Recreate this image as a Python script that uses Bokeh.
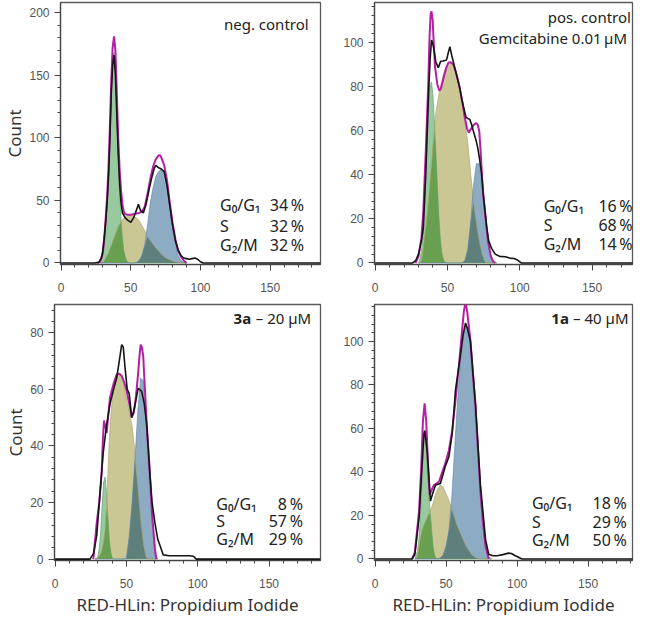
import numpy as np
from bokeh.plotting import figure
from bokeh.layouts import column, row
from bokeh.models import Label, FixedTicker, Range1d
from bokeh.embed import file_html
from bokeh.resources import INLINE

# ---------------- tick labels ----------------
X_MAJOR = [0, 50, 100, 150]
X_MINOR = [0, 10, 20, 30, 40, 50, 60, 70, 80, 90, 100, 110, 120, 130, 140, 150, 160, 170, 180]
Y1_MAJOR = [0, 50, 100, 150, 200]
Y1_MINOR = [0, 10, 20, 30, 40, 50, 60, 70, 80, 90, 100, 110, 120, 130, 140, 150, 160, 170, 180, 190, 200]
Y2_MAJOR = [0, 20, 40, 60, 80, 100]
Y2_MINOR = [0, 4, 8, 12, 16, 20, 24, 28, 32, 36, 40, 44, 48, 52, 56, 60, 64, 68, 72, 76, 80, 84, 88, 92, 96, 100, 104, 108, 112, 116]
Y3_MAJOR = [0, 20, 40, 60, 80]
Y3_MINOR = [0, 4, 8, 12, 16, 20, 24, 28, 32, 36, 40, 44, 48, 52, 56, 60, 64, 68, 72, 76, 80, 84, 88]

PHASES = ["G\u2080/G\u2081", "S", "G\u2082/M"]

# ---------------- panel 1: neg. control ----------------
P1_X = [28, 29, 30, 31, 32, 33, 34, 35, 36, 37, 38, 39, 40, 41, 42, 43, 44, 45, 46, 47, 48,
        50, 52, 54, 56, 58, 60, 62, 64, 66, 68, 70, 72, 74, 76, 78, 80, 82, 84, 86, 88, 90]
P1_G1 = [0, 3, 10, 20, 32, 45, 65, 100, 135, 160, 168, 150, 120, 85, 55, 35, 20, 10, 5, 2, 0.5,
         0, 0, 0, 0, 0, 0, 0, 0, 0, 0, 0, 0, 0, 0, 0, 0, 0, 0, 0, 0, 0]
P1_S = [0, 0, 0.5, 2, 4, 6, 8, 11, 14, 17, 20, 23, 26, 29, 31, 33, 35, 36, 37, 37.5, 38,
        38, 37.5, 36, 34, 30, 26, 21, 18, 15, 12, 9.5, 7, 5, 3.5, 2.5, 1.5, 1, 0.5, 0, 0, 0]
P1_G2 = [0, 0, 0, 0, 0, 0, 0, 0, 0, 0, 0, 0, 0, 0, 0, 0, 0, 0, 0, 0, 0,
         0, 0, 0.5, 2, 6, 14, 30, 48, 60, 69, 73, 75, 72, 60, 44, 28, 15, 6, 2, 0.5, 0]
P1_DX = [0, 24, 27, 29, 30, 31, 32, 33, 34, 35, 36, 37, 38, 39, 40, 41, 42, 43, 44, 46,
         48, 50, 52, 54, 55.5, 57, 59, 61, 63, 65, 67, 68, 70, 72, 74, 76, 78, 80, 82, 84,
         86, 88, 90, 92, 94, 96, 98, 100, 102, 186]
P1_DY = [0, 0, 0.5, 4, 10, 20, 33, 48, 68, 98, 135, 158, 166, 150, 118, 88, 64, 48, 40, 36,
         34, 32.5, 36, 42, 47, 42, 40, 47, 58, 68, 76, 78, 76, 75, 73, 62, 46, 30, 18, 10,
         6, 4, 3.5, 3, 3.5, 4, 3, 1, 0, 0]
P1_FX = [26, 28, 30, 31, 32, 33, 34, 35, 36, 37, 38, 39, 40, 41, 42, 43, 44, 45, 46, 48,
         50, 52, 54, 56, 58, 60, 62, 64, 66, 68, 70, 71, 72, 74, 76, 78, 80, 82, 84, 86, 88, 90]
P1_FY = [0, 1, 8, 20, 35, 52, 75, 108, 145, 172, 181, 170, 135, 100, 75, 58, 47, 41, 39, 38.5,
         38.5, 39, 39.5, 40, 41, 45, 55, 67, 77, 83, 86, 86, 84, 78, 66, 48, 32, 19, 10, 5, 2, 0]
P1_PCT = ["34\u2009%", "32\u2009%", "32\u2009%"]

# ---------------- panel 2: pos. control ----------------
P2_X = [30, 31, 32, 33, 34, 35, 36, 37, 38, 39, 40, 41, 42, 43, 44, 45, 46, 47, 48,
        50, 52, 54, 56, 58, 60, 62, 64, 66, 68, 70, 72, 74, 76, 78, 80, 82, 84]
P2_G1 = [0, 2, 5, 12, 22, 38, 55, 70, 80, 82, 76, 64, 50, 36, 22, 12, 5, 2, 0.5,
         0, 0, 0, 0, 0, 0, 0, 0, 0, 0, 0, 0, 0, 0, 0, 0, 0, 0]
P2_S = [0, 0, 1, 5, 11, 16, 22, 29, 37, 45, 53, 61, 68, 72, 76, 79, 82, 85, 87,
        90, 91, 90, 87, 80, 73, 64, 55, 41, 28, 18, 10, 4, 0.5, 0, 0, 0, 0]
P2_G2 = [0, 0, 0, 0, 0, 0, 0, 0, 0, 0, 0, 0, 0, 0, 0, 0, 0, 0, 0,
         0, 0, 0, 0, 0, 0, 1, 6, 18, 35, 45, 45, 34, 21, 9, 3, 0.5, 0]
P2_DX = [0, 26, 28, 30, 32, 33.3, 35, 36.8, 38, 39, 40, 40.7, 42, 43.7, 45.3, 47, 49.4, 50.5,
         51.7, 53, 54, 56, 58.6, 60, 62.8, 64, 65.5, 67, 67.8, 70, 71, 72, 73.6, 75, 77, 78.5,
         80.5, 83, 86, 90, 93, 96, 98, 101, 186]
P2_DY = [0, 0, 1, 4, 10, 15.5, 40, 74, 92, 101, 99, 96.6, 91, 88.5, 91.4, 91.5, 92, 95,
         98, 94, 91.4, 86, 79, 74, 66, 65.5, 65, 62, 60, 55, 52, 48, 40.5, 30, 17, 10,
         6.6, 4, 3, 2.8, 2.2, 2, 1.5, 0, 0]
P2_FX = [28, 30, 32, 33.3, 35, 36.8, 37.5, 38.4, 39, 39.8, 40.5, 41.4, 43, 44.4, 45.5, 47, 49,
         50.6, 52, 54, 56, 58, 60, 62, 63.5, 64.8, 66.5, 68.3, 70, 71, 72, 73, 74, 74.7, 76, 78,
         80, 81.6, 83]
P2_FY = [0, 3, 11, 23, 50, 82, 100, 113, 114, 110, 100, 89, 81, 78, 79, 83, 88,
         90.7, 91, 90, 86, 81, 74, 66, 61, 59, 61, 62.7, 63.4, 62.5, 59.7, 50, 38, 31, 23, 10,
         3, 0.7, 0]
P2_PCT = ["16\u2009%", "68\u2009%", "14\u2009%"]

# ---------------- panel 3: 3a - 20 uM ----------------
P3_X = [28, 29, 30, 31, 32, 33, 34, 35, 36, 37, 38, 39, 40, 41, 42, 43, 44,
        46, 48, 50, 52, 54, 56, 58, 60, 62, 64, 66, 68, 70, 72]
P3_G1 = [0, 0, 1, 4, 10, 19, 27, 29, 24, 15, 7, 2.5, 0.5, 0, 0, 0, 0,
         0, 0, 0, 0, 0, 0, 0, 0, 0, 0, 0, 0, 0, 0]
P3_S = [0, 0, 0.5, 1, 2, 3.5, 6, 10, 18, 30, 42, 50, 56, 60, 62, 64, 65,
        65.5, 62, 57, 52, 47, 38, 26, 14, 5, 0.5, 0, 0, 0, 0]
P3_G2 = [0, 0, 0, 0, 0, 0, 0, 0, 0, 0, 0, 0, 0, 0, 0, 0, 0,
         0, 0, 0.3, 8, 20, 35, 52, 64, 63, 47, 28, 13, 2, 0]
P3_DX = [0, 24.5, 27, 29.2, 31, 33.8, 36, 38.5, 41, 43.2, 45, 46.7, 47.8, 49, 50.6, 52, 53.7,
         55, 57, 58.3, 60.7, 62.5, 64.2, 66.5, 68, 70, 72, 73.5, 75.8, 80, 90, 94.5, 97, 99, 186]
P3_DY = [0, 0, 2, 8.3, 20, 37.8, 47, 54.8, 60, 64, 70, 75.8, 75, 68, 60, 58.5, 50,
         52, 57, 60.4, 59.3, 55, 48, 30, 20, 12.8, 7, 4.9, 1.5, 1.2, 1.2, 1.2, 1, 0, 0]
P3_FX = [26.8, 29.2, 31, 32.7, 33.5, 34.3, 35.2, 36.2, 37.5, 38.5, 41, 43.2, 45, 46.7, 48.5,
         50.2, 52, 53.7, 55, 56, 57.2, 58.3, 59.2, 60, 60.8, 61.8, 63, 64.1, 66.5, 68, 70, 71]
P3_FY = [0, 12.8, 20, 31, 42, 49, 47, 44.6, 52, 57, 62, 65.3, 65.5, 64.8, 62.5,
         59.4, 55, 50.3, 51.5, 54.3, 60, 66, 72, 75.8, 75, 71.8, 60, 49, 30, 16, 3.7, 0]
P3_PCT = ["8\u2009%", "57\u2009%", "29\u2009%"]

# ---------------- panel 4: 1a - 40 uM ----------------
P4_X = [28, 29, 30, 31, 32, 33, 34, 35, 36, 37, 38, 39, 40, 41, 42, 43, 44,
        46, 48, 50, 52, 54, 56, 58, 60, 62, 64, 66, 68, 70, 72, 74, 76, 78, 80, 82]
P4_G1 = [0, 2, 4, 10, 20, 35, 52, 59, 52, 40, 28, 20, 12, 5, 1.5, 0.3, 0,
         0, 0, 0, 0, 0, 0, 0, 0, 0, 0, 0, 0, 0, 0, 0, 0, 0, 0, 0]
P4_S = [0, 0, 2, 6, 10, 13, 15, 16.5, 18, 19.5, 21, 22.5, 24, 26, 28.5, 30.5, 32,
        34, 33, 30, 27, 23, 19, 15, 12, 9, 6, 4, 2, 1, 0.3, 0, 0, 0, 0, 0]
P4_G2 = [0, 0, 0, 0, 0, 0, 0, 0, 0, 0, 0, 0, 0, 0, 0, 0, 0,
         0.5, 2, 6, 13, 28, 50, 72, 90, 102, 108, 104, 90, 70, 50, 32, 14, 5, 1, 0]
P4_DX = [0, 26, 28, 31, 33, 34.4, 35, 36.8, 39, 40.5, 42.6, 46, 49.6, 52, 54.3, 56.7, 60, 62,
         63.7, 65, 67.2, 70.7, 74.2, 77.8, 80, 83, 86, 90, 94, 96, 98.8, 103.5, 186]
P4_DY = [0, 0, 2, 19, 42, 57.6, 59, 48.7, 26.6, 30, 34, 34.7, 42.8, 47, 57.6, 78, 93, 103,
         108.5, 106, 100, 71, 34, 8.9, 2.2, 1.5, 1.5, 2, 2.7, 2.5, 1.5, 0, 0]
P4_FX = [26, 28, 31, 32.5, 33.7, 34.9, 36, 37.2, 38.4, 40, 41.5, 45, 49.6, 52, 54.3, 56.5, 59,
         61, 62.5, 63.7, 64.9, 67.2, 70.7, 74.2, 76, 77.8, 80]
P4_FY = [0, 3, 22, 42, 63.5, 71.6, 63.5, 45, 29.5, 32, 34, 35.5, 44.3, 50, 59, 72, 88.6,
         103, 113.7, 118, 113.7, 100, 71, 31, 17, 6, 0]
P4_PCT = ["18\u2009%", "29\u2009%", "50\u2009%"]

# ---------------- styling ----------------
C_G1 = "#98c99f"
C_S = "#cbc795"
C_G2 = "#8eabc4"
C_G1S = "#69a04f"
C_SG2 = "#5f7f7c"
E_G1 = "#5e9f6a"
E_S = "#a9a46c"
E_G2 = "#5f87a8"
C_DATA = "#151515"
C_FIT = "#b41fa3"
TXT = "#222222"
FONT = "Noto Sans"


def make_panel(xg, g1, s, g2, dx, dy, fx, fy, xend, yr, ymaj, ymin,
               width, height, bl, bt, bb, ylabel=None, xlabel=None):
    p = figure(width=width, height=height,
               x_range=Range1d(-0.4, xend), y_range=Range1d(*yr),
               output_backend="svg", toolbar_location=None,
               min_border_left=bl, min_border_right=2,
               min_border_top=bt, min_border_bottom=bb)
    p.grid.visible = False
    p.outline_line_color = "#5a5a5a"
    p.outline_line_width = 1.3
    p.background_fill_color = "white"
    p.border_fill_color = "white"

    xg = np.asarray(xg, float)
    g1 = np.asarray(g1, float)
    s = np.asarray(s, float)
    g2 = np.asarray(g2, float)

    p.varea(x=xg, y1=0, y2=g1, fill_color=C_G1)
    p.varea(x=xg, y1=0, y2=s, fill_color=C_S)
    p.varea(x=xg, y1=0, y2=g2, fill_color=C_G2)
    p.varea(x=xg, y1=0, y2=np.minimum(g1, s), fill_color=C_G1S)
    p.varea(x=xg, y1=0, y2=np.minimum(s, g2), fill_color=C_SG2)
    p.line(xg, g1, line_color=E_G1, line_width=0.8, line_alpha=0.8)
    p.line(xg, s, line_color=E_S, line_width=0.8, line_alpha=0.8)
    p.line(xg, g2, line_color=E_G2, line_width=0.8, line_alpha=0.8)

    p.line(fx, fy, line_color=C_FIT, line_width=2.0)
    p.line(dx, dy, line_color=C_DATA, line_width=1.6)

    p.xaxis.ticker = FixedTicker(ticks=X_MAJOR, minor_ticks=X_MINOR)
    p.yaxis.ticker = FixedTicker(ticks=ymaj, minor_ticks=ymin)
    for ax in (p.xaxis[0], p.yaxis[0]):
        ax.major_tick_out = 6
        ax.major_tick_in = 0
        ax.minor_tick_out = 3
        ax.minor_tick_in = 0
        ax.axis_line_color = "#444444"
        ax.axis_line_width = 1.2
        ax.major_tick_line_color = "#444444"
        ax.minor_tick_line_color = "#444444"
        ax.major_label_text_font = "Liberation Sans"
        ax.major_label_text_font_size = "12px"
        ax.major_label_text_color = "#555555"
    p.xaxis.major_label_standoff = 12
    p.yaxis.major_label_standoff = 5
    if ylabel:
        p.yaxis.axis_label = ylabel
        p.yaxis.axis_label_standoff = 0
        p.yaxis.axis_label_text_font = FONT
        p.yaxis.axis_label_text_font_style = "normal"
        p.yaxis.axis_label_text_font_size = "17px"
        p.yaxis.axis_label_text_color = "#333333"
    if xlabel:
        p.xaxis.axis_label = xlabel
        p.xaxis.axis_label_standoff = 2
        p.xaxis.axis_label_text_font = FONT
        p.xaxis.axis_label_text_font_style = "normal"
        p.xaxis.axis_label_text_font_size = "17px"
        p.xaxis.axis_label_text_color = "#333333"
    return p


def add_text(p, x, y, text, align="right", bold=False, size="15px"):
    p.add_layout(Label(x=x, y=y, text=text, text_font=FONT, text_font_size=size,
                       text_color=TXT, text_align=align, text_baseline="middle",
                       text_font_style="bold" if bold else "normal"))


def add_stats(p, xl, xr, ys, pcts):
    for name, pct, y in zip(PHASES, pcts, ys):
        add_text(p, xl, y, name, align="left", size="16px")
        add_text(p, xr, y, pct, align="right", size="16px")


p1 = make_panel(P1_X, P1_G1, P1_S, P1_G2, P1_DX, P1_DY, P1_FX, P1_FY, 186.1, (-1.2, 208),
                Y1_MAJOR, Y1_MINOR, 322, 300, 54, 2, 36, ylabel="Count")
add_text(p1, 177.6, 190.6, "neg. control")
add_stats(p1, 114, 174.3, [46, 29.7, 14], P1_PCT)

p2 = make_panel(P2_X, P2_G1, P2_S, P2_G2, P2_DX, P2_DY, P2_FX, P2_FY, 177.9, (-0.7, 118),
                Y2_MAJOR, Y2_MINOR, 312, 300, 52, 2, 36)
add_text(p2, 176.8, 111.3, "pos. control")
add_text(p2, 176.8, 101.8, "Gemcitabine  0.01\u2009\u00b5M")
add_stats(p2, 116.5, 178, [25.8, 17, 8.8], P2_PCT)

p3 = make_panel(P3_X, P3_G1, P3_S, P3_G2, P3_DX, P3_DY, P3_FX, P3_FY, 186.1, (-0.5, 90),
                Y3_MAJOR, Y3_MINOR, 322, 318, 54, 4, 56, ylabel="Count",
                xlabel="RED-HLin: Propidium Iodide")
add_text(p3, 137.5, 85.4, "3a", align="right", bold=True)
add_text(p3, 179.6, 85.4, "\u2013 20 \u00b5M")
add_stats(p3, 113, 173.8, [19.6, 13.4, 7.1], P3_PCT)

p4 = make_panel(P4_X, P4_G1, P4_S, P4_G2, P4_DX, P4_DY, P4_FX, P4_FY, 181.3, (-0.7, 117),
                Y2_MAJOR, Y2_MINOR, 312, 318, 52, 4, 56,
                xlabel="RED-HLin: Propidium Iodide")
add_text(p4, 136.5, 110.8, "1a", align="right", bold=True)
add_text(p4, 178.5, 110.8, "\u2013 40 \u00b5M")
add_stats(p4, 110.5, 177.3, [25.9, 17, 8.9], P4_PCT)

layout = column(row(p1, p2), row(p3, p4))
open("out.html", "w").write(file_html(layout, INLINE))
